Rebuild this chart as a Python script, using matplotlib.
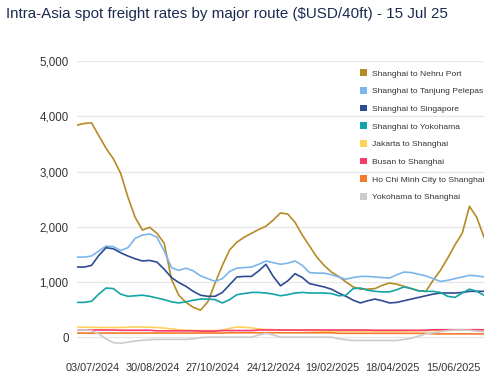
import numpy as np
import pandas as pd
import matplotlib
matplotlib.use("Agg")
import matplotlib.pyplot as plt
import matplotlib.dates as mdates
from matplotlib.patches import Patch

plt.rcParams['font.family'] = ['Liberation Sans', 'DejaVu Sans']

# weekly observations, 18 Jun 2024 -> 15 Jul 2025
dates = pd.date_range("2024-06-18", periods=57, freq="7D")

nehru = [3840, 3870, 3880, 3650, 3420, 3230, 2970, 2540, 2170, 1940,
         1990, 1880, 1700, 1050, 760, 630, 540, 490, 640, 980,
         1300, 1580, 1720, 1810, 1880, 1950, 2010, 2120, 2250, 2230,
         2080, 1850, 1650, 1450, 1300, 1180, 1100, 1000, 910, 870,
         870, 880, 940, 980, 960, 920, 880, 840, 830, 1030,
         1210, 1430, 1670, 1880, 2370, 2170, 1810]
tanjung = [1450, 1450, 1470, 1560, 1650, 1640, 1570, 1620, 1790, 1850,
           1870, 1810, 1560, 1260, 1210, 1250, 1200, 1110, 1060, 1010,
           1060, 1190, 1250, 1260, 1270, 1320, 1380, 1350, 1320, 1340,
           1380, 1300, 1170, 1160, 1160, 1130, 1090, 1050, 1080, 1100,
           1100, 1090, 1080, 1070, 1130, 1180, 1170, 1140, 1110, 1060,
           1010, 1030, 1060, 1090, 1120, 1110, 1090]
singapore = [1270, 1270, 1300, 1480, 1620, 1600, 1530, 1470, 1420, 1380,
             1390, 1360, 1230, 1080, 990, 920, 830, 760, 740, 740,
             810, 950, 1090, 1100, 1100, 1200, 1320, 1100, 930, 1020,
             1150, 1080, 970, 940, 910, 870, 800, 740, 670, 620,
             660, 690, 660, 620, 630, 660, 690, 720, 750, 780,
             800, 800, 800, 810, 830, 830, 830]
yokohama = [630, 630, 650, 780, 890, 880, 780, 740, 750, 760,
            740, 710, 680, 640, 620, 640, 670, 690, 690, 680,
            620, 680, 770, 790, 810, 810, 800, 780, 750, 770,
            800, 810, 800, 800, 800, 790, 750, 760, 880, 890,
            850, 830, 820, 820, 860, 910, 880, 840, 830, 830,
            810, 740, 720, 800, 870, 830, 760]
jakarta = [180, 180, 180, 175, 175, 175, 175, 180, 185, 185,
           180, 175, 165, 150, 135, 125, 120, 120, 120, 120,
           125, 160, 185, 180, 170, 150, 140, 135, 130, 130,
           130, 125, 120, 115, 110, 110, 110, 110, 110, 110,
           110, 110, 110, 110, 110, 110, 115, 115, 120, 120,
           120, 125, 125, 130, 130, 130, 130]
busan = [130, 130, 130, 130, 130, 130, 125, 125, 125, 125,
         125, 115, 115, 115, 115, 115, 115, 110, 110, 110,
         120, 120, 120, 120, 120, 130, 130, 130, 130, 130,
         130, 130, 130, 130, 130, 130, 130, 130, 130, 130,
         130, 125, 125, 125, 125, 125, 125, 125, 125, 135,
         135, 135, 135, 135, 135, 135, 135]
hcm = [75, 75, 75, 75, 75, 75, 75, 75, 75, 75,
       75, 75, 75, 75, 75, 75, 75, 75, 75, 75,
       75, 80, 80, 80, 80, 80, 80, 80, 80, 80,
       80, 80, 80, 80, 80, 80, 70, 70, 70, 70,
       70, 70, 70, 70, 70, 70, 70, 70, 70, 60,
       60, 60, 60, 60, 60, 60, 60]
yoko_sh = [130, 130, 120, 60, -30, -100, -110, -90, -70, -55,
           -45, -40, -40, -40, -40, -40, -30, -10, 0, 0,
           0, 0, 0, 0, 0, 40, 70, 40, 0, 0,
           0, 0, 0, 0, 0, 0, -30, -45, -60, -60,
           -60, -60, -60, -60, -60, -40, -20, 20, 60, 80,
           100, 120, 130, 130, 125, 110, 100]

series = {
    "Shanghai to Nehru Port": (nehru, "#b58b25"),
    "Shanghai to Tanjung Pelepas": (tanjung, "#7cb5ec"),
    "Shanghai to Singapore": (singapore, "#2f4b93"),
    "Shanghai to Yokohama": (yokohama, "#12a4a6"),
    "Jakarta to Shanghai": (jakarta, "#ffd05c"),
    "Busan to Shanghai": (busan, "#fa3a6b"),
    "Ho Chi Minh City to Shanghai": (hcm, "#f47a2c"),
    "Yokohama to Shanghai": (yoko_sh, "#cccccc"),
}

tick_dates = pd.to_datetime(["2024-07-03", "2024-08-30", "2024-10-27", "2024-12-24",
                             "2025-02-19", "2025-04-18", "2025-06-15"])

fig = plt.figure(figsize=(5, 3.77), dpi=100)
ax = fig.add_axes([0.154, 0.069, 0.814, 0.769])

for name, (vals, col) in series.items():
    ax.plot(dates, vals, color=col, lw=1.2, solid_joinstyle="round")

ax.set_ylim(-250, 5000)
ax.set_yticks(range(0, 5001, 1000))
ax.yaxis.set_major_formatter(matplotlib.ticker.FuncFormatter(lambda v, p: f"{int(v):,}"))
ax.set_xlim(dates[0], dates[-1])
ax.set_xticks(tick_dates)
ax.xaxis.set_major_formatter(mdates.DateFormatter("%d/%m/%Y"))
ax.grid(axis="y", color="#e6e6e6", lw=0.9)
ax.set_axisbelow(True)
for s in ax.spines.values():
    s.set_visible(False)
ax.tick_params(length=0, colors="#333333")
ax.tick_params(axis="x", pad=9, labelsize=7.8)
ax.tick_params(axis="y", pad=6, labelsize=8.3)

handles = [Patch(facecolor=c, edgecolor="none") for _, c in series.values()]
ax.legend(handles, list(series.keys()), loc="upper left", bbox_to_anchor=(0.705, 0.836),
          bbox_transform=fig.transFigure, frameon=False, fontsize=6.1,
          handlelength=0.85, handleheight=0.85, handletextpad=0.6, labelspacing=1.1,
          labelcolor="#333333")

fig.text(0.012, 0.962, "Intra-Asia spot freight rates by major route ($USD/40ft) - 15 Jul 25",
         fontsize=10.9, color="#1b2a4e", va="center", ha="left")

fig.savefig("out.png", dpi=100)
